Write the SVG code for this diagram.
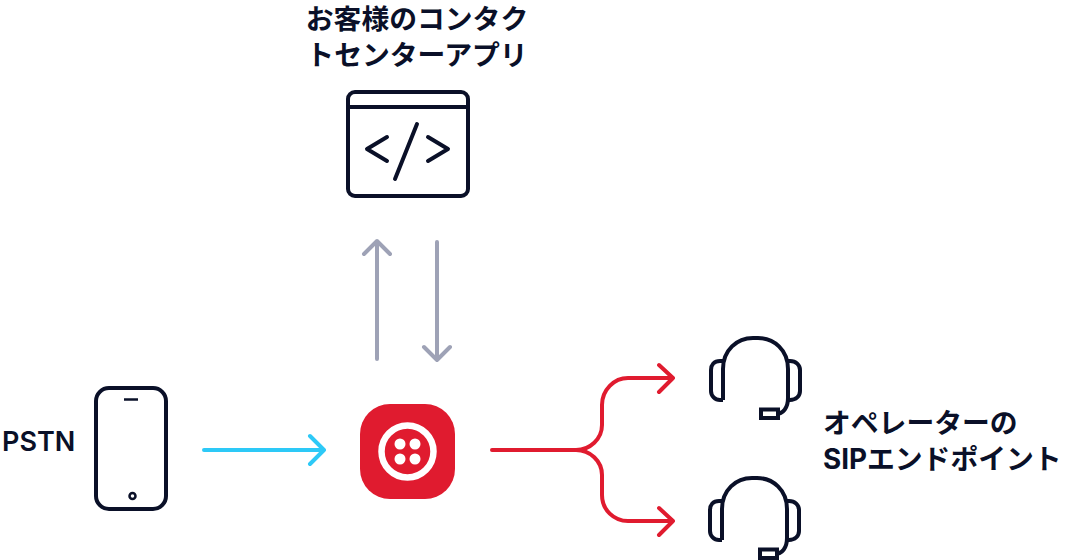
<svg xmlns="http://www.w3.org/2000/svg" width="1070" height="560" viewBox="0 0 1070 560">
<style>
.t{font-family:Inter,"Noto Sans CJK JP",sans-serif;font-weight:700;font-size:27.800px;fill:#0a1028}
.l{font-family:Inter,"Noto Sans",sans-serif;font-weight:600;font-size:27px;fill:#0a1028}
.i{fill:none;stroke:#0a1028;stroke-width:4;stroke-linecap:round;stroke-linejoin:round}
.c{fill:none;stroke-width:4;stroke-linecap:round;stroke-linejoin:round}
.g{stroke:#9ea2b6}.b{stroke:#2dc9f7}.r{stroke:#e01b2f}
</style>
<defs>
<g id="headset" class="i">
<path d="M723 400V369C723 350 737 338 753 338H758C774 338 788 350 788 369V398C788 408 783 414 776 414" stroke-linecap="butt"/>
<path d="M723 361H720C714 361 711 365 711 370V391C711 396 715 400 720 400H723" stroke-linecap="butt"/>
<path d="M788 361H790C796 361 800 365 800 370V391C800 396 796 400 790 400H788" stroke-linecap="butt"/>
<rect x="761" y="409.500" width="17" height="8.500" stroke-linecap="butt" stroke-linejoin="miter"/>
</g>
</defs>
<g id="connectors">
<path class="c g" d="M377 359V241M364 254L377 241L390 254"/>
<path class="c g" d="M437 242V360M424 347L437 360L450 347"/>
<path class="c b" d="M204 450H324M310 436L324 450L310 464"/>
<path class="c r" d="M492 450H576C590 450 602 439 602 425V405C602 390 614 378 628 378H673M659 365L673 378L659 392"/>
<path class="c r" d="M576 450C590 450 602 461 602 475V495C602 510 614 521 628 521H673M659 508L673 521L659 535"/>
</g>
<g id="contact-center-app">
<rect class="i" x="348" y="92" width="120" height="104" rx="7"/>
<path class="i" d="M348 107H468M387 137L367 149L387 161M428 137L448 149L428 161M417 124L395 179"/>
<text class="t" x="417" y="29" text-anchor="middle">お客様のコンタク</text>
<text class="t" x="417" y="65" text-anchor="middle">トセンターアプリ</text>
</g>
<g id="pstn">
<rect class="i" x="96" y="388" width="70" height="121" rx="13"/>
<path d="M124 399.500H138" fill="none" stroke="#0a1028" stroke-width="2.500"/>
<circle cx="132.500" cy="496" r="3" fill="none" stroke="#0a1028" stroke-width="2.500"/>
<text class="l" x="2" y="451">PSTN</text>
</g>
<g id="twilio">
<rect x="360" y="404" width="95" height="95" rx="30" fill="#e01b2f"/>
<circle cx="407.500" cy="451.500" r="26" fill="none" stroke="#fff" stroke-width="6.500"/>
<g fill="#fff">
<circle cx="400" cy="444" r="5.500"/><circle cx="415" cy="444" r="5.500"/>
<circle cx="400" cy="459" r="5.500"/><circle cx="415" cy="459" r="5.500"/>
</g>
</g>
<g id="operator-1"><use href="#headset"/></g>
<g id="operator-2"><use href="#headset" transform="translate(-1 140)"/></g>
<g id="sip-endpoint">
<text class="t" x="823" y="433">オペレーターの</text>
<text class="t" x="823" y="469">SIPエンドポイント</text>
</g>
</svg>
